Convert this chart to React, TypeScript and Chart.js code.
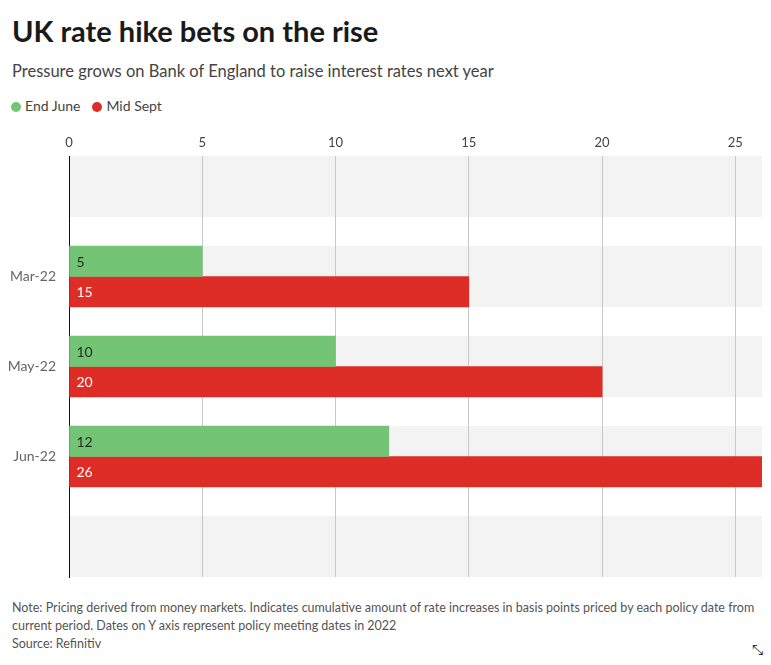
import React, { useEffect, useRef } from "react";
import { Chart, registerables } from "chart.js";

Chart.register(...registerables);

const categories = ["", "Mar-22", "May-22", "Jun-22", ""];
const endJune = [null, 5, 10, 12, null];
const midSept = [null, 15, 20, 26, null];
const xTicks = [0, 5, 10, 15, 20, 25];

const GREEN = "#74c476";
const RED = "#de2d26";
const FONT = "Lato, 'Open Sans', sans-serif";
const BAR = 30.5;

const toPoints = (arr: (number | null)[]) =>
  arr
    .map((v, i) => (v === null ? null : { x: v, y: i }))
    .filter((p) => p !== null) as { x: number; y: number }[];

const bandsPlugin = {
  id: "bands",
  beforeDraw(chart: any) {
    const { ctx, chartArea } = chart;
    const ys = chart.scales.y;
    ctx.save();
    ctx.fillStyle = "#f3f3f3";
    categories.forEach((_, i) => {
      const y = ys.getPixelForValue(i);
      ctx.fillRect(chartArea.left, y - BAR, chartArea.right - chartArea.left, BAR * 2);
    });
    ctx.restore();
  },
};

const labelsPlugin = {
  id: "barLabels",
  afterDatasetsDraw(chart: any) {
    const { ctx } = chart;
    ctx.save();
    ctx.font = `14px ${FONT}`;
    ctx.textAlign = "left";
    ctx.textBaseline = "middle";
    chart.data.datasets.forEach((ds: any, di: number) => {
      const meta = chart.getDatasetMeta(di);
      meta.data.forEach((el: any, j: number) => {
        const v = ds.data[j].x;
        ctx.fillStyle = di === 0 ? "#1f2a1f" : "#ffffff";
        ctx.fillText(String(v), el.base + 7, el.y + 1);
      });
    });
    ctx.restore();
  },
};

function ChartCanvas() {
  const ref = useRef<HTMLCanvasElement>(null);
  useEffect(() => {
    if (!ref.current) return;
    const chart = new Chart(ref.current, {
      type: "bar",
      data: {
        datasets: [
          { label: "End June", data: toPoints(endJune) as any, backgroundColor: GREEN, barThickness: BAR },
          { label: "Mid Sept", data: toPoints(midSept) as any, backgroundColor: RED, barThickness: BAR },
        ],
      },
      options: {
        indexAxis: "y",
        animation: false,
        responsive: false,
        maintainAspectRatio: false,
        layout: { padding: { left: 0, right: 9, top: 0, bottom: 13 } },
        plugins: { legend: { display: false }, tooltip: { enabled: false } },
        scales: {
          x: {
            type: "linear",
            position: "top",
            min: 0,
            max: 26,
            afterBuildTicks: (s: any) => {
              s.ticks = xTicks.map((v) => ({ value: v }));
            },
            ticks: { padding: 5, color: "#444", font: { family: FONT, size: 13 } },
            grid: {
              drawTicks: false,
              color: (c: any) => (c.tick && c.tick.value === 0 ? "rgba(0,0,0,0)" : "#c8c8c8"),
            },
            border: { display: false },
            afterFit: (s: any) => {
              s.height = 36;
            },
          },
          y: {
            type: "linear",
            reverse: true,
            offset: false,
            min: -0.339,
            max: 4.339,
            afterBuildTicks: (s: any) => {
              s.ticks = categories.map((_, i) => ({ value: i }));
            },
            ticks: {
              padding: 13,
              color: "#666",
              font: { family: FONT, size: 14 },
              callback: (v: any) => categories[v] ?? "",
            },
            grid: { display: false, drawTicks: false, offset: false },
            border: { display: true, color: "#111", width: 1 },
            afterFit: (s: any) => {
              s.width = 69;
              s.paddingTop = 0;
              s.paddingBottom = 0;
            },
          },
        },
      },
      plugins: [bandsPlugin, labelsPlugin],
    });
    return () => chart.destroy();
  }, []);
  return (
    <canvas
      ref={ref}
      width={771}
      height={470}
      style={{ position: "absolute", left: 0, top: 120, width: 771, height: 470 }}
    />
  );
}

export default function App() {
  const dot = (c: string) => ({
    display: "inline-block",
    width: 10,
    height: 10,
    borderRadius: 5,
    background: c,
    marginRight: 4,
    verticalAlign: "-1px",
  });
  return (
    <div style={{ position: "absolute", left: 0, top: 0, width: 771, height: 665, background: "#fff", fontFamily: FONT, overflow: "hidden" }}>
      <div style={{ position: "absolute", left: 12, top: 13, fontSize: 29, fontWeight: 700, color: "#1a1a1a", whiteSpace: "nowrap", lineHeight: "36px" }}>
        UK rate hike bets on the rise
      </div>
      <div style={{ position: "absolute", left: 12, top: 60, fontSize: 16.5, color: "#444", whiteSpace: "nowrap", lineHeight: "22px" }}>
        Pressure grows on Bank of England to raise interest rates next year
      </div>
      <div style={{ position: "absolute", left: 11, top: 97, fontSize: 14, color: "#444", whiteSpace: "nowrap", lineHeight: "18px" }}>
        <span style={dot(GREEN)} />End June
        <span style={{ display: "inline-block", width: 12 }} />
        <span style={dot(RED)} />Mid Sept
      </div>
      <ChartCanvas />
      <div style={{ position: "absolute", left: 12, top: 599, fontSize: 12.5, color: "#555", lineHeight: "18px", whiteSpace: "nowrap" }}>
        <div>Note: Pricing derived from money markets. Indicates cumulative amount of rate increases in basis points priced by each policy date from</div>
        <div>current period. Dates on Y axis represent policy meeting dates in 2022</div>
        <div>Source: Refinitiv</div>
      </div>
      <div style={{ position: "absolute", left: 752, top: 642, fontSize: 14, color: "#333", fontFamily: "DejaVu Sans" }}>⤡</div>
    </div>
  );
}
